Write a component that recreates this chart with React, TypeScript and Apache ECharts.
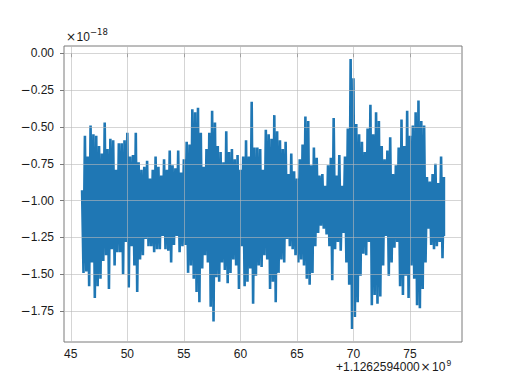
import React, { useEffect, useRef } from "react";
import * as echarts from "echarts";

// Time in seconds after GPS 1126259400 (offset shown as +1.1262594000×10^9)
const T_START = 46;
const T_STEP = 0.25;

// Upper / lower envelope of the strain (units of 1e-18), one pair per 0.25 s
const upper = [
  -0.93, -0.56, -0.70, -0.49, -0.55, -0.56, -0.63, -0.68, -0.47, -0.65,
  -0.58, -0.59, -0.79, -0.61, -0.61, -0.59, -0.54, -0.70, -0.69, -0.54,
  -0.74, -0.79, -0.77, -0.73, -0.85, -0.79, -0.70, -0.77, -0.83, -0.72,
  -0.79, -0.66, -0.76, -0.78, -0.66, -0.81, -0.72, -0.60, -0.62, -0.38,
  -0.40, -0.37, -0.54, -0.77, -0.65, -0.54, -0.39, -0.47, -0.63, -0.67,
  -0.74, -0.53, -0.67, -0.65, -0.72, -0.69, -0.79, -0.70, -0.59, -0.70,
  -0.33, -0.64, -0.64, -0.65, -0.79,
  -0.52, -0.55, -0.58, -0.42, -0.53, -0.59, -0.65, -0.60, -0.82, -0.68,
  -0.80, -0.85, -0.72, -0.62, -0.43, -0.46, -0.76, -0.64, -0.71, -0.83,
  -0.82, -0.90, -0.76, -0.71, -0.44, -0.83, -0.69, -0.90, -0.70, -0.51,
  -0.04, -0.17, -0.48, -0.55,
  -0.60, -0.67, -0.51, -0.35, -0.55, -0.40, -0.46, -0.63, -0.72, -0.66,
  -0.57, -0.82, -0.76, -0.64, -0.45, -0.63, -0.39, -0.56, -0.49, -0.40,
  -0.32, -0.46, -0.49, -0.84, -0.87, -0.82, -0.75, -0.88, -0.70, -0.84,
];

const lower = [
  -1.49, -1.48, -1.58, -1.42, -1.66, -1.58, -1.53, -1.41, -1.37, -1.60,
  -1.33, -1.44, -1.35, -1.35, -1.50, -1.28, -1.59, -1.31, -1.44, -1.62,
  -1.40, -1.37, -1.26, -1.31, -1.31, -1.35, -1.33, -1.33, -1.24, -1.33,
  -1.34, -1.42, -1.30, -1.24, -1.35, -1.31, -1.30, -1.49, -1.44, -1.53,
  -1.62, -1.69, -1.46, -1.37, -1.42, -1.72, -1.82, -1.52, -1.55, -1.42,
  -1.47, -1.56, -1.49, -1.40, -1.44, -1.60, -1.31, -1.58, -1.55, -1.46,
  -1.70, -1.51, -1.44, -1.45, -1.37,
  -1.40, -1.60, -1.55, -1.69, -1.49, -1.40, -1.42, -1.26, -1.31, -1.33,
  -1.37, -1.42, -1.40, -1.44, -1.53, -1.57, -1.49, -1.31, -1.22, -1.17,
  -1.19, -1.23, -1.31, -1.54, -1.33, -1.28, -1.34, -1.22, -1.42, -1.57,
  -1.87, -1.79, -1.69, -1.51,
  -1.36, -1.37, -1.28, -1.71, -1.64, -1.70, -1.65, -1.44, -1.24, -1.51,
  -1.42, -1.32, -1.28, -1.58, -1.64, -1.51, -1.66, -1.44, -1.53, -1.71,
  -1.73, -1.60, -1.42, -1.19, -1.30, -1.33, -1.31, -1.28, -1.39, -1.24,
];

const xTicks = [45, 50, 55, 60, 65, 70, 75];
const yTicks = [0, -0.25, -0.5, -0.75, -1.0, -1.25, -1.5, -1.75];
const X_MIN = 44.4;
const X_MAX = 79.6;
const Y_MIN = -1.959;
const Y_MAX = 0.049;

const FONT = "'Liberation Sans', Arial, Helvetica, sans-serif";
const MATH = "'DejaVu Sans', sans-serif";
const TEXT = "#1a1a1a";
const SPINE = "#7a7a7a";

function buildSeries(): number[][] {
  const pts: number[][] = [];
  const n = upper.length;
  for (let i = 0; i < n; i++) {
    const t = T_START + i * T_STEP;
    pts.push([t, upper[i]]);
    pts.push([i === n - 1 ? t : t + T_STEP / 2, lower[i]]);
  }
  return pts;
}

const fmtY = (v: number) => {
  const s = Math.abs(v).toFixed(2);
  return v < 0 ? "{m|\u2212}{d|" + s + "}" : "{d|" + s + "}";
};

export default function App() {
  const ref = useRef<HTMLDivElement>(null);
  useEffect(() => {
    if (!ref.current) return;
    const chart = echarts.init(ref.current, null, { renderer: "svg" });
    const gridColor = "rgba(185,185,185,0.6)";
    chart.setOption({
      animation: false,
      backgroundColor: "#ffffff",
      grid: {
        left: 64,
        top: 46,
        width: 398,
        height: 296,
        show: true,
        borderColor: SPINE,
        borderWidth: 1,
        backgroundColor: "transparent",
      },
      xAxis: {
        type: "value",
        min: X_MIN,
        max: X_MAX,
        axisLine: { show: false },
        axisTick: {
          show: true,
          length: 4,
          customValues: xTicks,
          lineStyle: { color: SPINE, width: 1 },
        },
        axisLabel: {
          customValues: xTicks,
          color: TEXT,
          fontSize: 12,
          fontFamily: FONT,
          margin: 6,
          formatter: (v: number) => String(v),
        },
        splitLine: { show: false },
      },
      yAxis: {
        type: "value",
        min: Y_MIN,
        max: Y_MAX,
        axisLine: { show: false },
        axisTick: {
          show: true,
          length: 4,
          customValues: yTicks,
          lineStyle: { color: SPINE, width: 1 },
        },
        axisLabel: {
          customValues: yTicks,
          color: TEXT,
          margin: 10,
          formatter: fmtY,
          rich: {
            m: { fontFamily: MATH, fontSize: 12, color: TEXT },
            d: { fontFamily: FONT, fontSize: 12, color: TEXT },
          },
        },
        splitLine: { show: false },
      },
      series: [
        {
          type: "line",
          data: buildSeries(),
          showSymbol: false,
          symbol: "none",
          lineStyle: { color: "#1f77b4", width: 2.6, join: "miter" },
          z: 2,
          silent: true,
          markLine: {
            silent: true,
            symbol: ["none", "none"],
            label: { show: false },
            lineStyle: { color: gridColor, width: 1, type: "solid" },
            emphasis: { disabled: true },
            data: [
              ...xTicks.map((v) => ({ xAxis: v })),
              ...yTicks.map((v) => ({ yAxis: v })),
            ],
          },
        },
      ],
      graphic: [
        {
          type: "text",
          x: 66,
          y: 36.5,
          style: { text: "\u00d7", font: `12px ${MATH}`, fill: TEXT, verticalAlign: "middle" },
        },
        {
          type: "text",
          x: 76.5,
          y: 36.5,
          style: { text: "10", font: `12px ${FONT}`, fill: TEXT, verticalAlign: "middle" },
        },
        {
          type: "text",
          x: 90,
          y: 32,
          style: { text: "\u221218", font: `8.5px ${MATH}`, fill: TEXT, verticalAlign: "middle" },
        },
        {
          type: "text",
          x: 336,
          y: 367.3,
          style: { text: "+1.1262594000", font: `12px ${FONT}`, fill: TEXT, verticalAlign: "middle" },
        },
        {
          type: "text",
          x: 420.5,
          y: 367.3,
          style: { text: "\u00d7", font: `12px ${MATH}`, fill: TEXT, verticalAlign: "middle" },
        },
        {
          type: "text",
          x: 432,
          y: 367.3,
          style: { text: "10", font: `12px ${FONT}`, fill: TEXT, verticalAlign: "middle" },
        },
        {
          type: "text",
          x: 446.5,
          y: 362.5,
          style: { text: "9", font: `8.5px ${FONT}`, fill: TEXT, verticalAlign: "middle" },
        },
      ],
    });
    return () => chart.dispose();
  }, []);
  return (
    <div
      ref={ref}
      style={{ position: "fixed", left: 0, top: 0, width: 512, height: 384, background: "#fff" }}
    />
  );
}
